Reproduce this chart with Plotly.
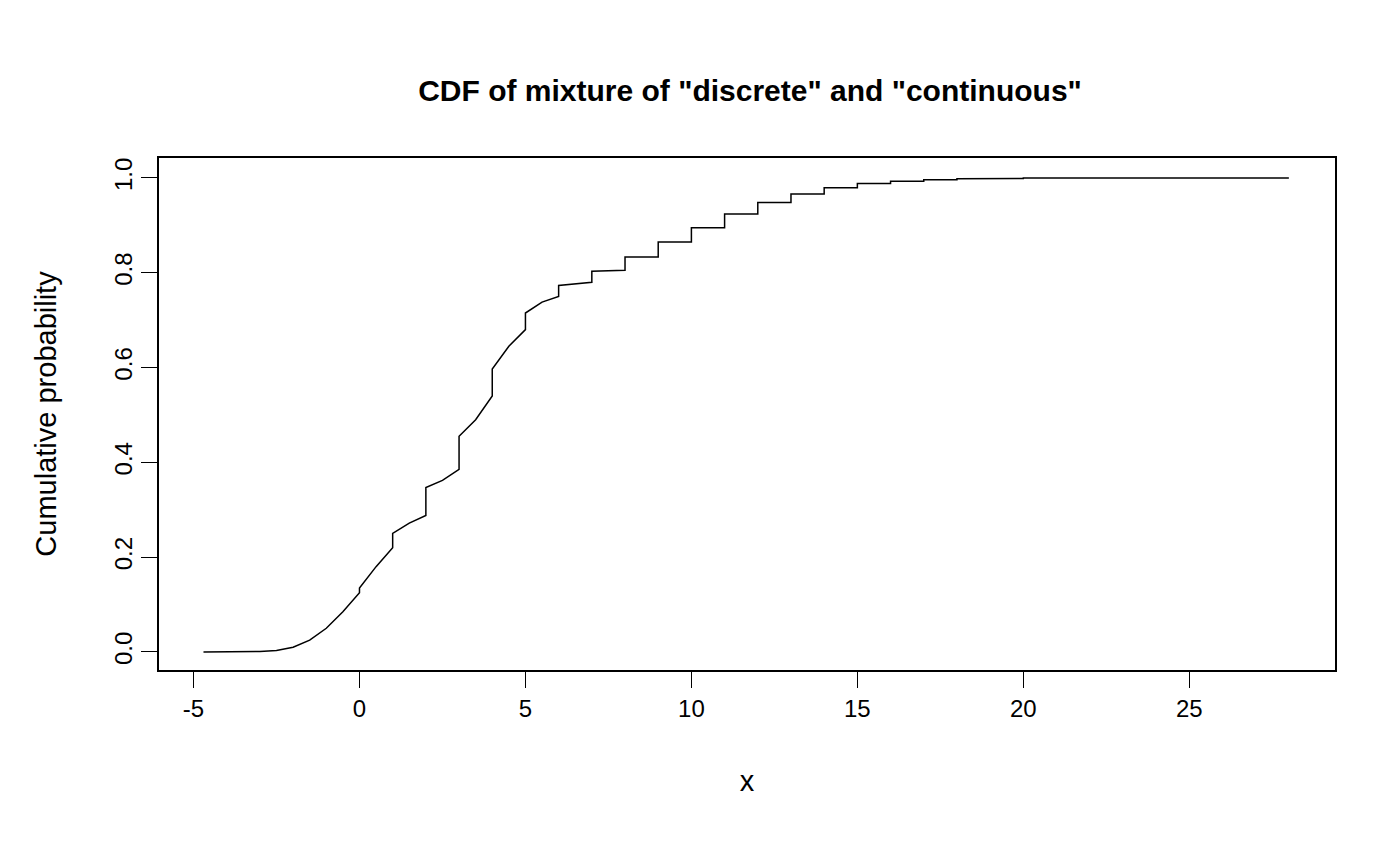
import plotly.graph_objects as go

# points of the mixture CDF (duplicate x = jump)
cdf_x = [-4.7, -3.5, -3.0, -2.5, -2.0, -1.5, -1.0, -0.5, 0.0,
         0.0, 0.5, 1.0,
         1.0, 1.5, 2.0,
         2.0, 2.5, 3.0,
         3.0, 3.5, 4.0,
         4.0, 4.5, 5.0,
         5.0, 5.5, 6.0,
         6.0, 6.5, 7.0,
         7.0, 8.0, 8.0, 9.0, 9.0, 10.0, 10.0, 11.0, 11.0, 12.0, 12.0, 13.0,
         13.0, 14.0, 14.0, 15.0, 15.0, 16.0, 16.0, 17.0, 17.0, 18.0, 18.0,
         19.0, 19.0, 20.0, 20.0, 28.0]
cdf_y = [0.0, 0.0, 0.001, 0.003, 0.01, 0.025, 0.05, 0.085, 0.125,
         0.135, 0.18, 0.22,
         0.25, 0.272, 0.288,
         0.347, 0.362, 0.385,
         0.455, 0.49, 0.54,
         0.597, 0.645, 0.68,
         0.715, 0.738, 0.75,
         0.773, 0.777, 0.78,
         0.803, 0.805, 0.833, 0.833, 0.865, 0.865, 0.895, 0.895, 0.924, 0.924,
         0.948, 0.948,
         0.966, 0.966, 0.979, 0.979, 0.988, 0.988, 0.993, 0.993, 0.996, 0.996,
         0.998, 0.998, 0.999, 0.999, 1.0, 1.0]

x_ticks = [-5, 0, 5, 10, 15, 20, 25]
y_ticks = [0.0, 0.2, 0.4, 0.6, 0.8, 1.0]

font = "Liberation Sans, Arial, sans-serif"

fig = go.Figure(go.Scatter(x=cdf_x, y=cdf_y, mode="lines",
                           line=dict(color="black", width=1.5),
                           showlegend=False, hoverinfo="skip"))

fig.update_layout(
    width=1400, height=865,
    paper_bgcolor="white", plot_bgcolor="white",
    margin=dict(l=151, r=73, t=150, b=203),
    font=dict(family=font, size=24, color="black"),
    title=dict(text='<b>CDF of mixture of "discrete" and "continuous"</b>',
               x=0.53, xanchor="center", y=0.905, yanchor="middle",
               font=dict(size=30)),
    xaxis=dict(range=[-6.04, 29.39], tickvals=x_ticks,
               ticktext=[str(v) for v in x_ticks],
               ticks="outside", ticklen=16, tickcolor="black",
               showline=True, mirror=True, linecolor="black", linewidth=1.5,
               showgrid=False, zeroline=False,
               title=dict(text="x", standoff=50)),
    yaxis=dict(range=[-0.038, 1.042], tickvals=y_ticks,
               ticktext=[f"{v:.1f}" for v in y_ticks], tickangle=-90,
               ticks="outside", ticklen=16, tickcolor="black",
               showline=True, mirror=True, linecolor="black", linewidth=1.5,
               showgrid=False, zeroline=False,
               title=dict(text="Cumulative probability", standoff=45)),
)

fig.write_html("out.html")
